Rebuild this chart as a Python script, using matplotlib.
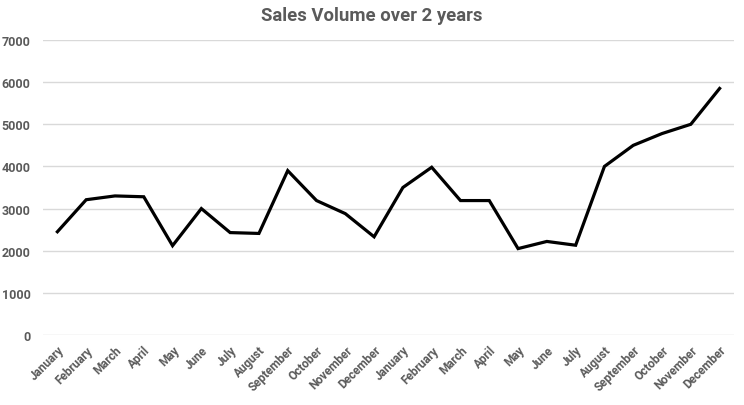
import matplotlib
matplotlib.use("Agg")
import matplotlib.pyplot as plt

months = ["January", "February", "March", "April", "May", "June", "July",
          "August", "September", "October", "November", "December"]
labels = months + months
sales = [2450, 3210, 3300, 3280, 2120, 3000, 2430, 2410, 3900, 3190, 2880, 2330,
         3500, 3980, 3190, 3190, 2050, 2220, 2130, 4000, 4500, 4780, 5000, 5850]
yticks = [0, 1000, 2000, 3000, 4000, 5000, 6000, 7000]

plt.rcParams["font.family"] = ["Roboto", "DejaVu Sans"]
grey = "#5a5a5a"

fig = plt.figure(figsize=(7.44, 4.06), dpi=100)
ax = fig.add_axes([43 / 744, 1 - 336 / 406, (734 - 43) / 744, (336 - 41) / 406])

x = list(range(len(sales)))
ax.plot(x, sales, color="black", linewidth=2.3, solid_joinstyle="miter")

ax.set_xlim(-0.5, len(sales) - 0.5)
ax.set_ylim(0, 7000)
ax.set_yticks(yticks)
ax.set_yticklabels([str(v) for v in yticks], fontsize=9, fontweight="bold", color=grey)
ax.set_xticks(x)
ax.set_xticklabels(labels, rotation=45, ha="right", rotation_mode="anchor",
                   fontsize=8.5, fontweight="bold", color=grey)
ax.tick_params(length=0, pad=6)
ax.tick_params(axis="y", pad=9)
ax.grid(axis="y", color="#d9d9d9", linewidth=1)
ax.set_axisbelow(True)
for s in ax.spines.values():
    s.set_visible(False)

fig.suptitle("Sales Volume over 2 years", y=1 - 16 / 406, va="center",
             fontsize=13.3, fontweight="bold", color=grey)

fig.savefig("out.png", dpi=100)
